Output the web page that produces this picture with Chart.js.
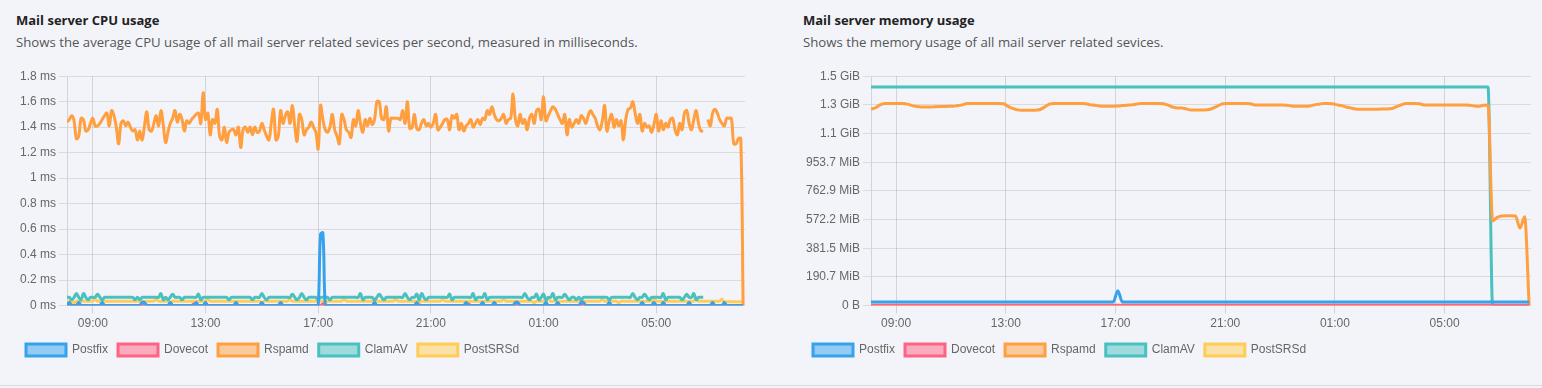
<!DOCTYPE html>
<html>
<head>
<meta charset="utf-8">
<title>Mail server usage</title>
<script src="https://cdn.jsdelivr.net/npm/chart.js@4.4.1/dist/chart.umd.min.js"></script>
<style>
  body { margin: 0; width: 1542px; height: 388px; overflow: hidden; background: #f3f4f9; position: relative; font-family: "Segoe UI", "Open Sans", sans-serif; }
  .panel { position: absolute; top: 0; width: 771px; height: 385px; }
  .panel h3 { position: absolute; left: 16px; top: 11px; margin: 0; font-size: 13px; font-weight: 700; color: #222; white-space: nowrap; }
  .panel p { position: absolute; left: 16px; top: 33px; margin: 0; font-size: 13.2px; color: #555; white-space: nowrap; }
  .box { position: absolute; left: 16px; top: 66px; width: 729px; height: 300px; }
  .sep { position: absolute; left: 0; right: 0; top: 385px; height: 1px; background: #d9d9dd; }
</style>
</head>
<body>
<div class="panel" style="left:0">
  <h3>Mail server CPU usage</h3>
  <p>Shows the average CPU usage of all mail server related sevices per second, measured in milliseconds.</p>
  <div class="box"><canvas id="cpuChart"></canvas></div>
</div>
<div class="panel" style="left:787px">
  <h3>Mail server memory usage</h3>
  <p>Shows the memory usage of all mail server related sevices.</p>
  <div class="box" style="width:728px"><canvas id="memChart"></canvas></div>
</div>
<div class="sep"></div>
<script>
// services, in legend order
const services = ['Postfix', 'Dovecot', 'Rspamd', 'ClamAV', 'PostSRSd'];
const colors = ['rgb(54, 162, 235)', 'rgb(255, 99, 132)', 'rgb(255, 159, 64)', 'rgb(75, 192, 192)', 'rgb(255, 205, 86)'];

// time axis: minutes since midnight of the first day
const startTime = '08:05';
const cpuStepMin = 5;    // one CPU sample every 5 minutes
const memStepMin = 10;   // one memory sample every 10 minutes
const xTickLabels = ['09:00', '13:00', '17:00', '21:00', '01:00', '05:00'];

// CPU (ms per second), rows of 2 hours
const cpuPostfix = [
  0,.025,0,0,0,.025,0,0,0,0,0,0,0,0,0,.025,0,0,0,0,0,0,0,0,
  0,0,0,0,0,0,0,0,.025,.025,0,0,0,0,0,0,0,0,0,0,.025,0,0,0,
  0,0,0,0,0,0,0,.025,0,0,0,.025,0,0,0,0,0,0,0,0,0,0,0,0,
  .025,0,0,0,0,0,0,0,0,0,0,.025,0,0,0,0,0,0,0,.025,0,0,0,0,
  0,0,0,0,0,0,0,0,0,0,0,0,.56,.57,0,0,0,0,0,0,0,0,0,0,
  0,0,0,0,0,0,0,0,0,0,0,.025,0,0,0,0,0,0,0,0,0,0,0,0,
  0,0,0,0,0,.025,0,0,0,0,0,0,0,0,0,0,0,0,0,0,0,0,0,0,
  0,0,.025,0,0,0,0,0,0,.025,0,0,0,0,.025,0,0,0,0,0,0,0,0,.025,
  .025,0,0,0,0,0,0,0,0,0,0,0,.025,0,0,0,0,.025,0,0,0,0,0,0,
  0,0,0,.025,.025,0,0,0,0,0,0,0,0,0,0,.025,0,0,0,0,0,0,0,0,
  0,0,0,0,0,.025,0,0,0,0,.025,0,0,0,.025,0,0,0,0,0,0,0,0,0,
  0,.025,0,0,0,0,0,0,0,0,0,.025,0,0,0,0,.025,0,0,0,0,0,0,0,
  0
];
const cpuDovecot = [
  0,.012,0,0,0,0,0,0,0,0,0,0,0,0,0,0,0,0,0,0,0,0,0,0,
  0,0,0,0,0,0,0,0,0,.012,0,0,0,0,0,0,0,0,0,0,0,0,0,0,
  0,0,0,0,0,0,.012,0,0,0,0,0,0,0,0,0,0,0,0,0,0,0,0,0,
  0,0,0,0,0,0,0,0,0,0,0,0,0,0,0,0,0,0,0,0,0,0,0,0,
  0,0,0,0,0,0,0,0,0,0,0,0,0,.012,0,0,0,0,0,0,0,0,0,0,
  0,0,0,0,0,0,0,0,0,0,0,.012,0,0,0,0,0,0,0,0,0,0,0,0,
  0,0,0,0,0,0,0,0,0,0,0,0,0,0,0,0,0,0,0,0,0,0,0,0,
  0,0,0,.012,0,0,0,0,0,0,0,0,0,0,0,0,0,0,0,0,0,0,0,0,
  .012,0,0,0,0,0,0,0,0,0,0,0,0,0,0,0,0,0,0,0,0,0,0,0,
  0,0,0,0,.012,0,0,0,0,0,0,0,0,0,0,0,0,0,0,0,0,0,0,0,
  0,0,0,0,0,0,0,0,0,0,0,0,0,0,0,0,0,0,0,0,0,0,0,0,
  0,0,0,0,0,0,0,0,0,0,0,0,0,0,0,0,.012,0,0,0,0,0,0,0,
  0
];
const cpuRspamd = [
  1.44,1.46,1.49,1.45,1.31,1.33,1.47,1.46,1.37,1.38,1.43,1.47,1.41,1.41,1.43,1.46,1.49,1.51,1.41,1.53,1.49,1.40,1.27,1.43,
  1.45,1.41,1.44,1.40,1.37,1.38,1.30,1.37,1.30,1.41,1.52,1.38,1.37,1.43,1.49,1.41,1.53,1.42,1.28,1.36,1.43,1.47,1.53,1.44,
  1.50,1.46,1.37,1.45,1.43,1.46,1.48,1.50,1.51,1.43,1.67,1.46,1.51,1.34,1.46,1.43,1.54,1.33,1.30,1.40,1.28,1.36,1.38,1.38,
  1.34,1.40,1.24,1.38,1.40,1.36,1.40,1.34,1.40,1.36,1.37,1.43,1.38,1.33,1.30,1.43,1.54,1.30,1.33,1.53,1.43,1.49,1.52,1.43,
  1.57,1.41,1.29,1.50,1.46,1.34,1.38,1.40,1.44,1.40,1.36,1.23,1.57,1.46,1.38,1.36,1.40,1.50,1.38,1.33,1.27,1.50,1.46,1.38,
  1.36,1.32,1.46,1.41,1.53,1.43,1.36,1.46,1.41,1.47,1.42,1.46,1.60,1.60,1.47,1.46,1.56,1.37,1.47,1.47,1.47,1.47,1.46,1.53,
  1.43,1.60,1.39,1.40,1.50,1.39,1.38,1.43,1.46,1.41,1.43,1.40,1.43,1.50,1.38,1.40,1.43,1.46,1.46,1.38,1.49,1.47,1.50,1.38,
  1.43,1.37,1.41,1.43,1.46,1.40,1.43,1.46,1.42,1.47,1.46,1.53,1.50,1.56,1.50,1.46,1.45,1.47,1.50,1.43,1.46,1.47,1.66,1.46,
  1.41,1.50,1.43,1.46,1.38,1.47,1.50,1.43,1.53,1.54,1.46,1.64,1.45,1.49,1.53,1.56,1.54,1.50,1.46,1.43,1.50,1.34,1.46,1.40,
  1.43,1.46,1.43,1.49,1.47,1.43,1.49,1.53,1.50,1.47,1.41,1.38,1.45,1.57,1.37,1.45,1.50,1.40,1.46,1.41,1.45,1.30,1.46,1.54,
  1.55,1.60,1.51,1.43,1.50,1.37,1.43,1.40,1.41,1.36,1.42,1.50,1.37,1.45,1.38,1.43,1.40,1.46,1.47,1.38,1.34,1.43,1.38,1.51,
  1.53,1.43,1.38,1.46,1.53,1.43,1.37,1.37,null,1.46,1.41,1.51,1.54,1.51,1.46,1.43,1.41,1.47,1.47,1.47,1.27,1.27,1.31,1.31,
  0
];
const cpuClamAV = [
  .065,.065,.045,.065,.095,.065,.045,.095,.065,.045,.065,.065,.065,.09,.065,.045,.065,.065,.065,.065,.065,.065,.065,.065,
  .065,.065,.065,.065,.065,.045,.065,.045,.065,.065,.065,.065,.065,.065,.065,.065,.095,.045,.065,.045,.065,.09,.065,.065,
  .065,.045,.065,.065,.065,.065,.065,.065,.09,.045,.065,.065,.065,.065,.065,.065,.065,.065,.065,.065,.065,.045,.065,.065,
  .065,.065,.065,.065,.065,.065,.065,.045,.065,.065,.065,.095,.065,.045,.065,.065,.065,.065,.065,.065,.065,.065,.065,.065,
  .09,.065,.045,.065,.095,.065,.045,.065,.065,.065,.065,.045,.065,.065,.065,.065,.045,.065,.065,.065,.065,.065,.065,.065,
  .065,.065,.065,.065,.065,.095,.045,.065,.065,.065,.065,.045,.065,.09,.065,.045,.065,.065,.065,.065,.065,.065,.065,.065,
  .095,.065,.045,.065,.065,.09,.045,.095,.065,.045,.065,.065,.065,.065,.065,.065,.065,.065,.065,.09,.045,.065,.065,.065,
  .065,.065,.065,.065,.065,.095,.045,.065,.065,.065,.095,.045,.065,.065,.065,.065,.065,.065,.065,.065,.065,.065,.065,.065,
  .065,.065,.065,.095,.065,.045,.065,.065,.09,.045,.065,.09,.045,.065,.065,.095,.045,.065,.065,.065,.09,.065,.045,.065,
  .065,.045,.065,.045,.065,.065,.065,.065,.065,.065,.065,.065,.065,.065,.065,.045,.065,.065,.065,.065,.065,.065,.065,.065,
  .065,.095,.065,.045,.065,.065,.09,.065,.045,.065,.065,.065,.065,.065,.095,.045,.065,.065,.065,.065,.065,.065,.045,.065,
  .09,.065,.065,.095,.045,.065,.065,.065,null,null,null,null,null,null,null,null,null,null,null,null,null,null,null,null,
  null
];
const cpuPostSRSd = [
  .035,.035,.035,.02,.035,.035,.035,.035,.035,.035,.035,.035,.05,.035,.035,.035,.035,.035,.035,.035,.035,.035,.035,.035,
  .035,.035,.035,.035,.035,.035,.035,.035,.035,.035,.035,.035,.035,.035,.05,.035,.035,.035,.035,.035,.02,.035,.035,.035,
  .035,.035,.035,.035,.035,.035,.035,.035,.035,.035,.035,.035,.05,.035,.035,.035,.035,.035,.035,.035,.035,.035,.035,.035,
  .035,.035,.035,.035,.035,.035,.035,.035,.035,.035,.035,.02,.035,.035,.035,.035,.035,.035,.035,.035,.035,.035,.035,.05,
  .035,.035,.035,.035,.035,.035,.035,.035,.035,.035,.035,.035,.035,.035,.02,.035,.035,.035,.035,.035,.035,.035,.05,.035,
  .035,.035,.035,.035,.035,.035,.035,.035,.035,.035,.035,.035,.035,.035,.035,.035,.035,.035,.035,.035,.05,.035,.035,.035,
  .035,.035,.035,.035,.035,.035,.02,.035,.035,.035,.035,.035,.035,.035,.035,.035,.05,.035,.035,.035,.035,.035,.035,.035,
  .035,.035,.035,.035,.035,.035,.035,.035,.035,.035,.035,.035,.035,.035,.035,.035,.035,.035,.05,.035,.035,.035,.035,.035,
  .035,.035,.035,.035,.035,.035,.035,.02,.035,.035,.035,.035,.035,.05,.035,.035,.035,.035,.035,.035,.035,.035,.035,.035,
  .035,.035,.035,.035,.035,.035,.035,.035,.035,.035,.035,.035,.05,.035,.035,.035,.035,.035,.035,.02,.035,.035,.035,.035,
  .035,.035,.035,.035,.035,.035,.035,.035,.035,.035,.05,.035,.035,.035,.035,.035,.035,.035,.035,.035,.035,.035,.035,.035,
  .035,.035,.035,.035,.06,.035,.035,.035,.035,.035,.035,.035,.035,.035,.035,.05,.03,.03,.03,.03,.03,.03,.03,.03,
  .03
];
const cpuTicks = [0, 0.2, 0.4, 0.6, 0.8, 1, 1.2, 1.4, 1.6, 1.8];

// memory (MB, 1 MB = 1e6 bytes), rows of 2 hours
const memPostfix = [
  25,25,25,25,25,25,25,25,25,25,25,25,
  25,25,25,25,25,25,25,25,25,25,25,25,
  25,25,25,25,25,25,25,25,25,25,25,25,
  25,25,25,25,25,25,25,25,25,25,25,25,
  25,25,25,25,25,25,104,25,25,25,25,25,
  25,25,25,25,25,25,25,25,25,25,25,25,
  25,25,25,25,25,25,25,25,25,25,25,25,
  25,25,25,25,25,25,25,25,25,25,25,25,
  25,25,25,25,25,25,25,25,25,25,25,25,
  25,25,25,25,25,25,25,25,25,25,25,25,
  25,25,25,25,25,25,25,25,25,25,25,25,
  25,25,25,25,25,25,25,25,25,25,25,25,
  25
];
const memDovecot = [
  2,2,2,2,2,2,2,2,2,2,2,2, 2,2,2,2,2,2,2,2,2,2,2,2, 2,2,2,2,2,2,2,2,2,2,2,2,
  2,2,2,2,2,2,2,2,2,2,2,2, 2,2,2,2,2,2,2,2,2,2,2,2, 2,2,2,2,2,2,2,2,2,2,2,2,
  2,2,2,2,2,2,2,2,2,2,2,2, 2,2,2,2,2,2,2,2,2,2,2,2, 2,2,2,2,2,2,2,2,2,2,2,2,
  2,2,2,2,2,2,2,2,2,2,2,2, 2,2,2,2,2,2,2,2,2,2,2,2, 2,2,2,2,2,2,2,2,2,2,2,2,
  2
];
const memRspamd = [
  1370,1380,1400,1410,1410,1410,1410,1410,1405,1395,1388,1385,
  1385,1385,1387,1388,1388,1390,1390,1395,1400,1410,1410,1410,
  1410,1410,1410,1410,1410,1408,1390,1375,1365,1362,1362,1362,
  1363,1368,1385,1405,1410,1410,1410,1410,1410,1410,1410,1408,
  1400,1398,1392,1390,1390,1390,1392,1395,1398,1400,1405,1410,
  1410,1410,1410,1410,1408,1398,1385,1378,1378,1372,1365,1365,
  1365,1365,1368,1380,1395,1408,1410,1410,1410,1410,1410,1408,
  1400,1400,1400,1400,1400,1400,1400,1398,1392,1390,1390,1390,
  1392,1400,1405,1410,1410,1408,1400,1395,1385,1378,1372,1370,
  1370,1370,1370,1370,1372,1372,1375,1388,1400,1410,1410,1410,
  1408,1400,1400,1400,1400,1400,1400,1400,1400,1400,1400,1398,
  1392,1390,1398,1400,590,615,625,627,627,625,540,620,
  0
];
const memClamAV = [
  1525,1525,1525,1525,1525,1525,1525,1525,1525,1525,1525,1525,
  1525,1525,1525,1525,1525,1525,1525,1525,1525,1525,1525,1525,
  1525,1525,1525,1525,1525,1525,1525,1525,1525,1525,1525,1525,
  1525,1525,1525,1525,1525,1525,1525,1525,1525,1525,1525,1525,
  1525,1525,1525,1525,1525,1525,1525,1525,1525,1525,1525,1525,
  1525,1525,1525,1525,1525,1525,1525,1525,1525,1525,1525,1525,
  1525,1525,1525,1525,1525,1525,1525,1525,1525,1525,1525,1525,
  1525,1525,1525,1525,1525,1525,1525,1525,1525,1525,1525,1525,
  1525,1525,1525,1525,1525,1525,1525,1525,1525,1525,1525,1525,
  1525,1525,1525,1525,1525,1525,1525,1525,1525,1525,1525,1525,
  1525,1525,1525,1525,1525,1525,1525,1525,1525,1525,1525,1525,
  1525,1525,1525,1525,0,0,0,0,0,0,0,0,
  0
];
const memPostSRSd = [
  1,1,1,1,1,1,1,1,1,1,1,1, 1,1,1,1,1,1,1,1,1,1,1,1, 1,1,1,1,1,1,1,1,1,1,1,1,
  1,1,1,1,1,1,1,1,1,1,1,1, 1,1,1,1,1,1,1,1,1,1,1,1, 1,1,1,1,1,1,1,1,1,1,1,1,
  1,1,1,1,1,1,1,1,1,1,1,1, 1,1,1,1,1,1,1,1,1,1,1,1, 1,1,1,1,1,1,1,1,1,1,1,1,
  1,1,1,1,1,1,1,1,1,1,1,1, 1,1,1,1,1,1,1,1,1,1,1,1, 1,1,1,1,1,1,1,1,1,1,1,1,
  1
];
const memTicks = [0, 200, 400, 600, 800, 1000, 1200, 1400, 1600];

function toMinutes(hhmm) {
  const [h, m] = hhmm.split(':').map(Number);
  return h * 60 + m;
}
const t0 = toMinutes(startTime);
// ticks after midnight belong to the next day
const xTickValues = xTickLabels.map(l => toMinutes(l) < t0 ? toMinutes(l) + 1440 : toMinutes(l));

function points(values, step) {
  return values.map((v, i) => ({ x: t0 + i * step, y: v }));
}

function formatBytes(b) {
  if (b === 0) return '0 B';
  const units = ['B', 'KiB', 'MiB', 'GiB', 'TiB'];
  const i = Math.floor(Math.log(b) / Math.log(1024));
  return `${+(b / Math.pow(1024, i)).toFixed(1)} ${units[i]}`;
}

function buildDatasets(series, step, extra) {
  return series.map((values, i) => Object.assign({
    label: services[i],
    data: points(values, step),
    borderColor: colors[i],
    backgroundColor: colors[i].replace('rgb(', 'rgba(').replace(')', ', 0.5)'),
    borderWidth: 3,
    pointRadius: 0,
    pointHoverRadius: 0
  }, extra));
}

function xScale() {
  return {
    type: 'linear',
    min: t0,
    max: t0 + 1444,
    afterBuildTicks: s => { s.ticks = xTickValues.map(v => ({ value: v })); },
    ticks: {
      autoSkip: false,
      maxRotation: 0,
      callback: v => xTickLabels[xTickValues.indexOf(v)]
    },
    grid: { color: 'rgba(0,0,0,0.13)' },
    border: { display: false }
  };
}

function renderChart(id, datasets, yScale, yWidth) {
  new Chart(document.getElementById(id), {
    type: 'line',
    data: { datasets: datasets },
    options: {
      responsive: true,
      maintainAspectRatio: false,
      animation: false,
      plugins: {
        legend: { position: 'bottom', align: 'start' },
        tooltip: { enabled: false }
      },
      scales: {
        x: xScale(),
        y: Object.assign(yScale, {
          afterFit: s => { s.width = yWidth; },
          grid: { color: 'rgba(0,0,0,0.1)' },
          border: { color: 'rgba(0,0,0,0.13)' }
        })
      }
    }
  });
}

renderChart('cpuChart',
  buildDatasets([cpuPostfix, cpuDovecot, cpuRspamd, cpuClamAV, cpuPostSRSd], cpuStepMin, { tension: 0.4 }),
  {
    min: 0, max: 1.8,
    afterBuildTicks: s => { s.ticks = cpuTicks.map(v => ({ value: v })); },
    ticks: { callback: v => `${+v.toFixed(1)} ms` }
  }, 51);

renderChart('memChart',
  buildDatasets([memPostfix, memDovecot, memRspamd, memClamAV, memPostSRSd], memStepMin, { cubicInterpolationMode: 'monotone' }),
  {
    min: 0, max: 1600,
    afterBuildTicks: s => { s.ticks = memTicks.map(v => ({ value: v })); },
    ticks: { callback: v => formatBytes(v * 1e6) }
  }, 68);
</script>
</body>
</html>
